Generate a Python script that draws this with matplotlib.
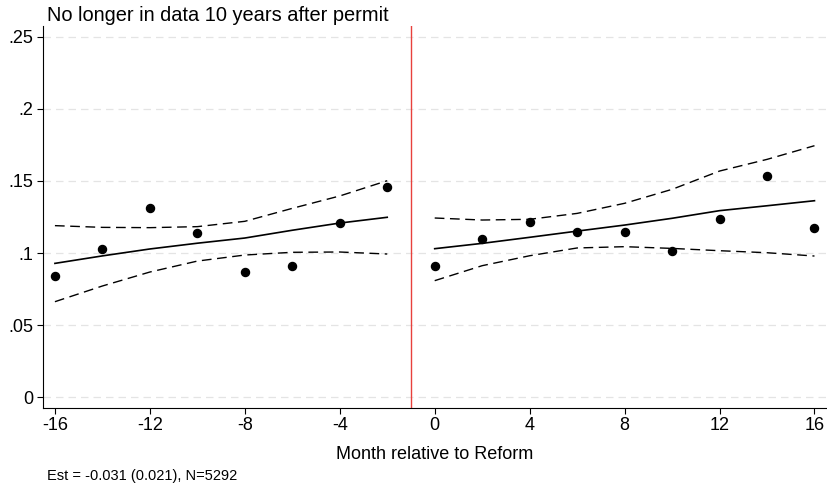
import matplotlib.pyplot as plt
import numpy as np

plt.rcParams['font.family'] = ['Liberation Sans', 'DejaVu Sans']

# binned means
months_pre = [-16, -14, -12, -10, -8, -6, -4, -2]
share_pre = [0.0842, 0.1028, 0.1315, 0.1141, 0.0866, 0.0912, 0.1210, 0.1460]
months_post = [0, 2, 4, 6, 8, 10, 12, 14, 16]
share_post = [0.0910, 0.1100, 0.1215, 0.1148, 0.1148, 0.1012, 0.1234, 0.1537, 0.1174]

# fitted line and confidence band
fit_pre = [0.0928, 0.0980, 0.1028, 0.1068, 0.1104, 0.1158, 0.1208, 0.1248]
hi_pre = [0.1190, 0.1178, 0.1176, 0.1183, 0.1220, 0.1310, 0.1396, 0.1502]
lo_pre = [0.0662, 0.0771, 0.0868, 0.0944, 0.0986, 0.1005, 0.1007, 0.0993]
fit_post = [0.1030, 0.1067, 0.1109, 0.1152, 0.1194, 0.1241, 0.1294, 0.1328, 0.1363]
hi_post = [0.1243, 0.1229, 0.1234, 0.1275, 0.1345, 0.1442, 0.1569, 0.1650, 0.1745]
lo_post = [0.0808, 0.0912, 0.0981, 0.1035, 0.1044, 0.1032, 0.1016, 0.1002, 0.0979]

title = 'No longer in data 10 years after permit'
xlab = 'Month relative to Reform'
note = 'Est = -0.031 (0.021), N=5292'
yticks = [0, 0.05, 0.1, 0.15, 0.2, 0.25]
ytick_labels = ['0', '.05', '.1', '.15', '.2', '.25']
xticks = [-16, -12, -8, -4, 0, 4, 8, 12, 16]

fig = plt.figure(figsize=(8.28, 4.86), dpi=100)
ax = fig.add_axes([0.052, 0.1605, 0.946, 0.786])

for y in yticks:
    ax.axhline(y, color='#e4e4e4', lw=0.9, ls=(0, (6, 4)), zorder=0)

ax.axvline(-1, color='#e8413c', lw=1.0, zorder=1)

for m, s, f, hi, lo in [(months_pre, share_pre, fit_pre, hi_pre, lo_pre),
                        (months_post, share_post, fit_post, hi_post, lo_post)]:
    ax.plot(m, hi, color='black', lw=1.0, ls=(0, (7, 4)))
    ax.plot(m, lo, color='black', lw=1.0, ls=(0, (7, 4)))
    ax.plot(m, f, color='black', lw=1.2)
    ax.plot(m, s, 'o', color='black', markersize=5.8)

ax.set_xlim(-16.5, 16.5)
ax.set_ylim(-0.0076, 0.2576)
ax.set_xticks(xticks)
ax.set_xticklabels([str(x) for x in xticks])
ax.set_yticks(yticks)
ax.set_yticklabels(ytick_labels)
ax.tick_params(axis='both', direction='out', length=4.3, width=0.8, labelsize=13)
ax.tick_params(axis='x', pad=2)
ax.tick_params(axis='y', pad=3)
ax.spines['top'].set_visible(False)
ax.spines['right'].set_visible(False)
ax.spines['left'].set_linewidth(0.8)
ax.spines['bottom'].set_linewidth(0.8)

fig.text(47 / 828, 1 - 21 / 486, title, fontsize=14.4, ha='left', va='baseline')
fig.text(435 / 828, 1 - 459 / 486, xlab, fontsize=13, ha='center', va='baseline')
fig.text(47 / 828, 1 - 480 / 486, note, fontsize=10.5, ha='left', va='baseline')

fig.savefig('out.png', dpi=100)
